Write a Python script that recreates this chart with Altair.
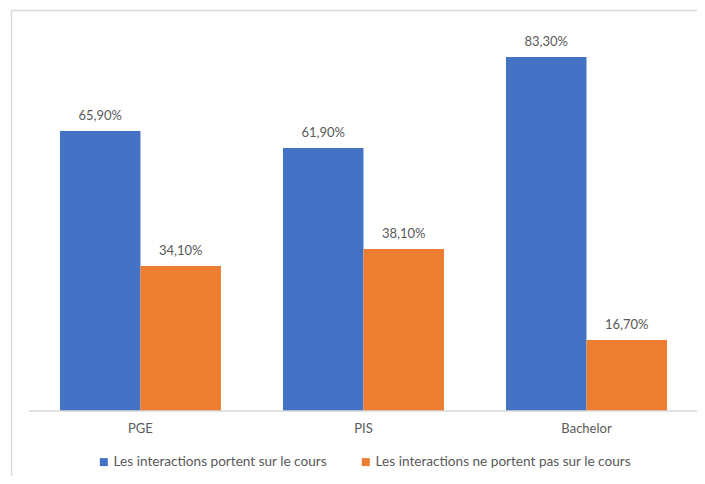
import altair as alt
import pandas as pd

categories = ["PGE", "PIS", "Bachelor"]
series = ["Les interactions portent sur le cours", "Les interactions ne portent pas sur le cours"]
values_on = [0.659, 0.619, 0.833]
values_off = [0.341, 0.381, 0.167]
colors = ["#4472C4", "#ED7D31"]

rows = []
for c, a, b in zip(categories, values_on, values_off):
    rows.append({"cat": c, "series": series[0], "value": a})
    rows.append({"cat": c, "series": series[1], "value": b})
df = pd.DataFrame(rows)
df["label"] = df["value"].map(lambda v: f"{v*100:.2f}".replace(".", ",") + "%")

W, H = 686, 466
FONT = "Lato"
TXT = "#595959"
GRID = "#D9D9D9"

base = alt.Chart(df)

x = alt.X("cat:N", sort=categories,
          scale=alt.Scale(paddingInner=0.278, paddingOuter=0.177, align=0.62),
          axis=alt.Axis(title=None, domain=False, ticks=False, labelAngle=0,
                        labelFont=FONT, labelFontSize=13, labelColor=TXT,
                        labelPadding=11, offset=-65))
y = alt.Y("value:Q", scale=alt.Scale(domain=[-0.1529, 0.9435], nice=False, zero=False), axis=None)
xo = alt.XOffset("series:N", sort=series, scale=alt.Scale(paddingInner=0, paddingOuter=0))
color = alt.Color("series:N", sort=series,
                  scale=alt.Scale(domain=series, range=colors),
                  legend=alt.Legend(title=None, orient="none", direction="horizontal",
                                    legendX=86, legendY=445, symbolType="square",
                                    symbolSize=64, symbolStrokeWidth=0, labelOffset=3,
                                    columnPadding=32, labelFont=FONT, labelFontSize=13.6,
                                    labelColor=TXT, labelLimit=400))

bars = base.mark_bar().encode(x=x, xOffset=xo, y=y, y2=alt.datum(0), color=color)
labels = base.mark_text(baseline="bottom", dy=-8, font=FONT, fontSize=13, color=TXT).encode(
    x=x, xOffset=xo, y=y, text="label:N")

one = base.transform_filter(alt.datum.value == values_on[0])
baseline = one.mark_rule(color=GRID, strokeWidth=1.5).encode(
    y=alt.datum(0), x=alt.value(18), x2=alt.value(687))
top_border = one.mark_rule(color=GRID, strokeWidth=1.5).encode(
    x=alt.value(0), x2=alt.value(W), y=alt.value(0.5))
left_border = one.mark_rule(color=GRID, strokeWidth=1.5).encode(
    x=alt.value(0.5), y=alt.value(0), y2=alt.value(H))

chart = alt.layer(bars, labels, baseline, top_border, left_border).properties(
    width=W, height=H, autosize="none",
    padding={"left": 3, "top": 2, "right": 0, "bottom": 0},
    background="white"
).configure_view(stroke=None)

chart.save("out.html", embed_options={"renderer": "svg", "actions": False})
